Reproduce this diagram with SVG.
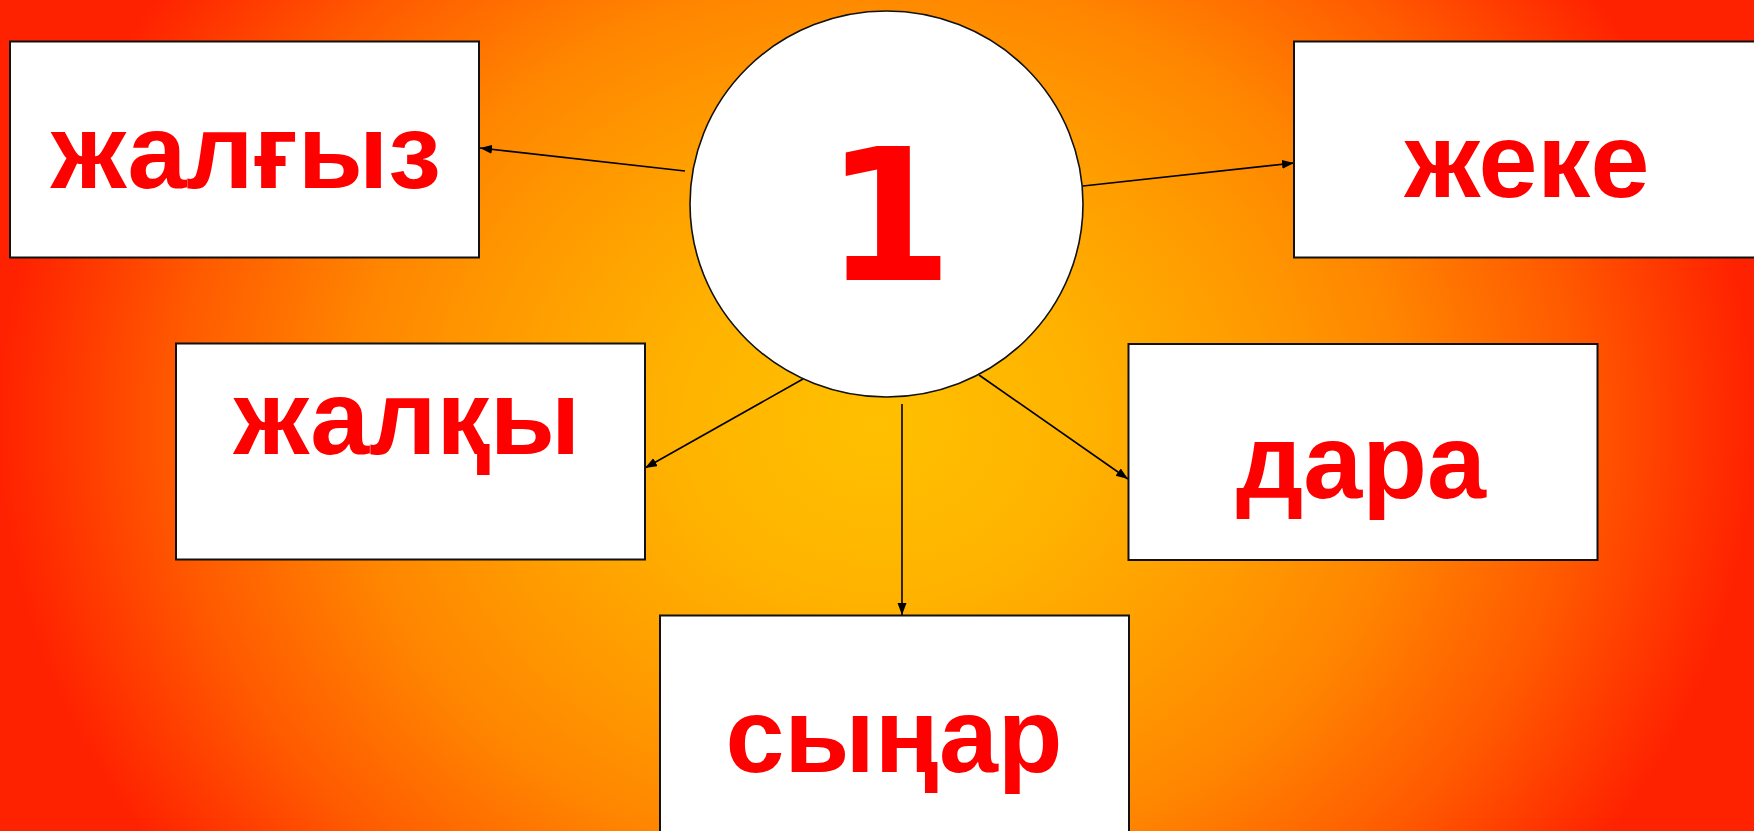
<svg xmlns="http://www.w3.org/2000/svg" width="1754" height="831" viewBox="0 0 1754 831">
<defs>
<radialGradient id="bg" gradientUnits="userSpaceOnUse" cx="877" cy="425" r="877" gradientTransform="matrix(1 0 0 0.85 0 63.75)">
<stop offset="0" stop-color="#FFC000"/>
<stop offset="0.22" stop-color="#FFB400"/>
<stop offset="0.45" stop-color="#FF9A00"/>
<stop offset="0.6" stop-color="#FF8600"/>
<stop offset="0.8" stop-color="#FF5A00"/>
<stop offset="1" stop-color="#FF2200"/>
</radialGradient>
<marker id="arr" markerUnits="userSpaceOnUse" markerWidth="13" markerHeight="10" refX="12" refY="4.5" orient="auto">
<path d="M0,0 L12,4.5 L0,9 z" fill="#000"/>
</marker>
<style>
.box{fill:#fff;stroke:#111;stroke-width:2}
.lbl{font-family:"Liberation Sans",Arial,sans-serif;font-weight:bold;font-size:106px;fill:#FF0000;text-anchor:middle}
.num{font-family:"DejaVu Sans",Verdana,sans-serif;font-weight:bold;font-size:184px;fill:#FF0000;text-anchor:middle}
.con{stroke:#000;stroke-width:1.6;fill:none;marker-end:url(#arr)}
</style>
</defs>
<rect x="0" y="0" width="1754" height="831" fill="url(#bg)"/>
<g id="connectors">
<line class="con" x1="685" y1="171" x2="480" y2="148"/>
<line class="con" x1="1083" y1="186" x2="1294" y2="163"/>
<line class="con" x1="803" y1="379" x2="645" y2="468"/>
<line class="con" x1="902" y1="404" x2="902" y2="615"/>
<line class="con" x1="979" y1="375" x2="1128" y2="479"/>
</g>
<g id="node-center">
<ellipse cx="886.5" cy="204" rx="196.5" ry="193" fill="#fff" stroke="#111" stroke-width="1.6"/>
<text class="num" x="889" y="280">1</text>
</g>
<g id="node-zhalgyz">
<rect class="box" x="10" y="41.5" width="469" height="216"/>
<text class="lbl" x="246" y="188">жалғыз</text>
</g>
<g id="node-zheke">
<rect class="box" x="1294" y="41.5" width="480" height="216"/>
<text class="lbl" x="1527" y="197">жеке</text>
</g>
<g id="node-zhalky">
<rect class="box" x="176" y="343.5" width="469" height="216"/>
<text class="lbl" x="407" y="454">жалқы</text>
</g>
<g id="node-dara">
<rect class="box" x="1128.5" y="344" width="469" height="216"/>
<text class="lbl" x="1361" y="498">дара</text>
</g>
<g id="node-synar">
<rect class="box" x="660" y="615.5" width="469" height="240"/>
<text class="lbl" x="894" y="772">сыңар</text>
</g>
</svg>
